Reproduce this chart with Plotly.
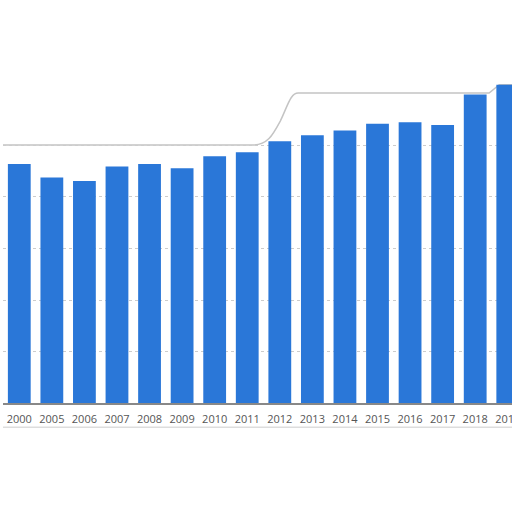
import plotly.graph_objects as go

years = ["2000", "2005", "2006", "2007", "2008", "2009", "2010", "2011",
         "2012", "2013", "2014", "2015", "2016", "2017", "2018", "2019"]
values = [4.64, 4.38, 4.31, 4.59, 4.64, 4.56, 4.79, 4.87,
          5.08, 5.20, 5.29, 5.42, 5.45, 5.40, 5.99, 6.18]
grid_ticks = [1, 2, 3, 4, 5]

fig = go.Figure(data=[go.Bar(x=years, y=values, marker_color="#2a77d8",
                             marker_line_width=0)])

fig.update_layout(
    width=512, height=512,
    margin=dict(l=3, r=0, t=0, b=109),
    paper_bgcolor="white", plot_bgcolor="white",
    bargap=0.3, showlegend=False,
    font=dict(family="Open Sans", size=11, color="#555555"),
)
fig.update_xaxes(type="category", range=[-0.5, 15.13], showgrid=False,
                 automargin=False, ticklabelstandoff=5,
                 showline=True, linecolor="#888888", linewidth=1.5,
                 ticks="", tickfont=dict(size=11, color="#555555"))
fig.update_yaxes(range=[0, 7.825], tickvals=grid_ticks, showticklabels=False,
                 automargin=False,
                 showgrid=True, gridcolor="#cccccc", griddash="dot",
                 gridwidth=1, zeroline=False)

# warped frame edge seen at the top of the panel
fig.add_shape(type="path", xref="paper", yref="paper",
              path="M 0 0.64 L 0.49 0.64 C 0.52 0.64 0.53 0.665 0.545 0.7 "
                   "C 0.56 0.74 0.565 0.769 0.58 0.769 "
                   "L 0.955 0.769 L 0.975 0.79 L 1 0.79",
              line=dict(color="#c4c4c4", width=1.5), layer="below")
# faint bottom frame edge under the labels
fig.add_shape(type="line", xref="paper", yref="paper", x0=0, x1=1,
              y0=-0.06, y1=-0.06, line=dict(color="#dddddd", width=1.5))

fig.write_html("out.html", config={"displayModeBar": False},
               post_script="document.body.style.margin='0';")
